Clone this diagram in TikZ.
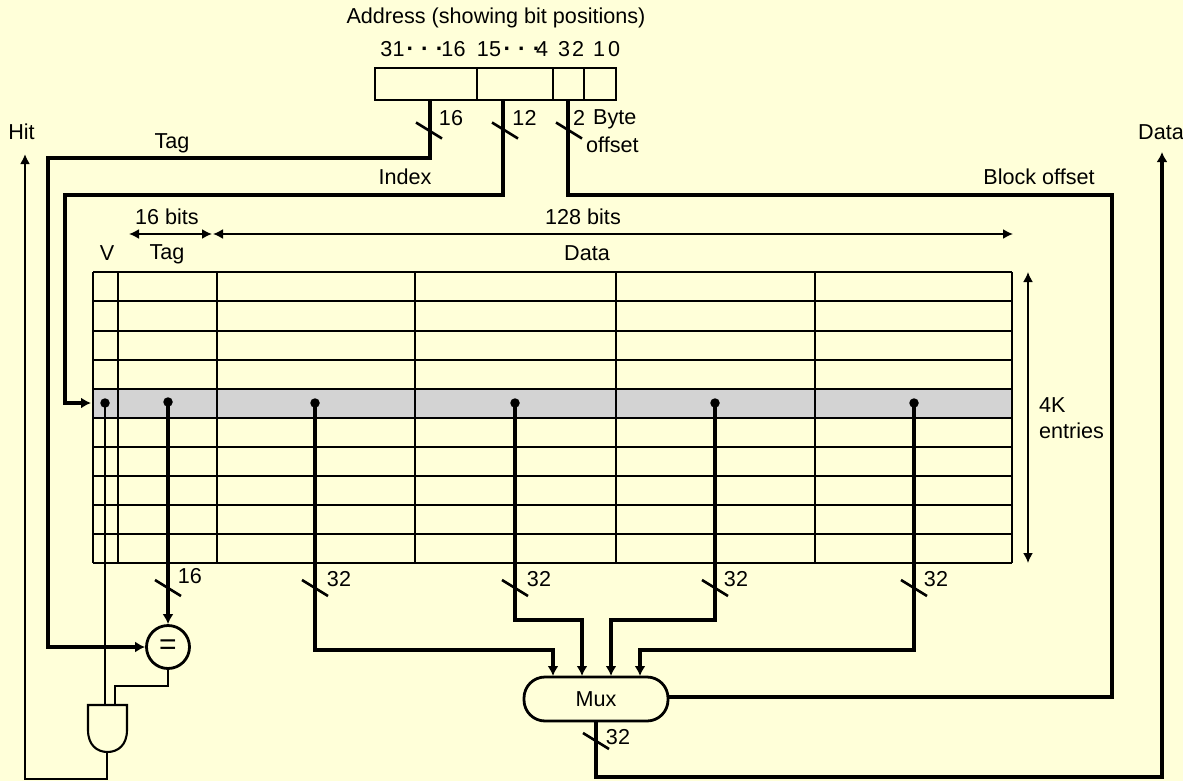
\documentclass[tikz,border=0pt]{standalone}
\usepackage{fontspec}
\setmainfont{Liberation Sans}
\usepackage{tikz}
\usetikzlibrary{arrows.meta}
\definecolor{CachePaper}{RGB}{255,255,217}
\definecolor{CacheRow}{RGB}{211,211,211}
\tikzset{
  lbl/.style={inner sep=0pt,font=\fontsize{21.6}{23}\selectfont},
  wire/.style={line width=2.1pt},
  bus/.style={line width=4.4pt},
  busarrow/.style={bus,-{Latex[length=10pt,width=11pt]}},
  dim/.style={line width=1.7pt,{Latex[length=10pt,width=10pt]}-{Latex[length=10pt,width=10pt]}},
  slash/.style={line width=2.6pt},
  dot/.style={circle,fill=black,inner sep=0pt,minimum size=9.5pt},
  spots/.style={lbl,font=\fontsize{23}{23}\selectfont\bfseries},
}
\begin{document}
\begin{tikzpicture}[x=1pt,y=-1pt]
\useasboundingbox[fill=CachePaper] (0,0) rectangle (1183,781);
% address register
\draw[wire] (375,68) rectangle (616,100);
\foreach \x in {477,553,584} {
   \draw[wire] (\x,68) -- (\x,100);
}
\node[lbl] (addr) at (496,18) {Address (showing bit positions)};
\node[lbl] (b31) at (392.5,49) {31};
\node[spots] (d31) at (425,52) {·\kern7pt·\kern7pt·};
\node[lbl] (b16) at (453.5,49) {16};
\node[lbl] (b15) at (489,49) {15};
\node[spots] (d15) at (522,52) {·\kern7pt·\kern7pt·};
\node[lbl] (b4) at (542,49) {4};
\node[lbl] (b3) at (564,49) {3};
\node[lbl] (b2) at (578,49) {2};
\node[lbl] (b1) at (599,49) {1};
\node[lbl] (b0) at (614,49) {0};
\coordinate (atag) at (430,100);
\coordinate (aidx) at (503,100);
\coordinate (aoff) at (568,100);
% cache table
\fill[CacheRow] (93,389) rectangle (1012,418);
\foreach \y in {272,301,331,360,389,418,447,476,505,534,563} {
   \draw[wire] (93,\y) -- (1012,\y);
}
\foreach \x in {93,118,217,415,616,815,1012} {
   \draw[wire] (\x,272) -- (\x,563);
}
\node[dot] (dv) at (105,403) {};
\node[dot] (dtag) at (168,402) {};
\foreach \n/\x in {1/315,2/515,3/715,4/914} {
   \node[dot] (d\n) at (\x,403) {};
}
% dimensions
\coordinate (tagl) at (129,234);
\coordinate (tagr) at (212,234);
\coordinate (datal) at (213,234);
\coordinate (datar) at (1013,234);
\coordinate (enta) at (1028,272);
\coordinate (entb) at (1028,563);
\draw[dim] (tagl) -- (tagr);
\draw[dim] (datal) -- (datar);
\draw[dim] (enta) -- (entb);
\node[lbl] (bits16) at (167,217) {16 bits};
\node[lbl] (bits128) at (583,217) {128 bits};
\node[lbl] (colv) at (107,253) {V};
\node[lbl] (coltag) at (167,254) {Tag};
\node[lbl] (coldata) at (587,253) {Data};
\node[lbl,anchor=west] (ent4k) at (1039,405) {4K};
\node[lbl,anchor=west] (entries) at (1039,431) {entries};
% compare, and gate, mux
\node[circle,draw,line width=2.8pt,minimum size=43pt,inner sep=0pt,font=\fontsize{30}{30}\selectfont] (eq) at (168,647) {=};
\draw[wire] (88,705) -- (127,705) -- (127,730) .. controls (127,745) and (118,752) .. (107.5,752) .. controls (97,752) and (88,745) .. (88,730) -- cycle;
\coordinate (andv) at (105,705);
\coordinate (ande) at (115,705);
\coordinate (ando) at (107,752);
\node[lbl,draw,line width=2.8pt,rounded corners=21pt,minimum width=144pt,minimum height=44pt] (mux) at (596,699) {Mux};
\foreach \n/\x in {1/553,2/582,3/611,4/640} {
   \coordinate (m\n) at (\x,676);
}
% buses
\coordinate (tagc) at (48,158);
\coordinate (idxc) at (65,195);
\coordinate (offc) at (1112,195);
\coordinate (rowin) at (91,403);
\coordinate (offm) at (1112,697);
\coordinate (hitc) at (25,779);
\coordinate (hitt) at (25,154);
\coordinate (datab) at (596,777);
\coordinate (datat) at (1162,152);
\draw[busarrow] (atag) |- (tagc) |- (eq.west);
\draw[busarrow] (aidx) |- (idxc) |- (rowin);
\draw[bus] (aoff) |- (offc) -- (offm) -- (mux.east |- offm);
\draw[busarrow] (dtag.center) -- (eq.north);
\draw[busarrow] (d1.center) |- (553,650) -- (m1);
\draw[busarrow] (d2.center) |- (582,620) -- (m2);
\draw[busarrow] (d3.center) |- (611,620) -- (m3);
\draw[busarrow] (d4.center) |- (640,650) -- (m4);
\draw[busarrow] (mux.south) -- (datab) -| (datat);
% thin wires
\draw[wire] (dv.center) -- (andv);
\draw[wire] (eq.south) |- (115,686) -- (ande);
\draw[wire,-{Latex[length=10pt,width=10pt]}] (ando) |- (hitc) -- (hitt);
% bus widths
\foreach \n/\x/\y/\l/\lx/\ly in {a/429/130.5/16/451/118,b/505/130.5/12/524.5/118,c/569/130.5/2/579/118,t/168/588/16/190/576,u/315/588/32/339/579,v/515/588/32/539/579,w/715/588/32/736/579,y/914/588/32/936/579,z/596/741/32/618/737} {
   \coordinate (s\n) at (\x,\y);
   \draw[slash] (s\n) +(-13,-8) -- +(13,8);
   \node[lbl] (w\n) at (\lx,\ly) {\l};
}
% names
\node[lbl] (hit) at (21.5,132) {Hit};
\node[lbl] (data) at (1161,132) {Data};
\node[lbl] (tag) at (172,143) {Tag};
\node[lbl] (index) at (405,177) {Index};
\node[lbl] (blk) at (1039,177) {Block offset};
\node[lbl,anchor=west] (byte) at (593,119) {Byte};
\node[lbl,anchor=west] (off) at (586,145) {offset};
\end{tikzpicture}
\end{document}
